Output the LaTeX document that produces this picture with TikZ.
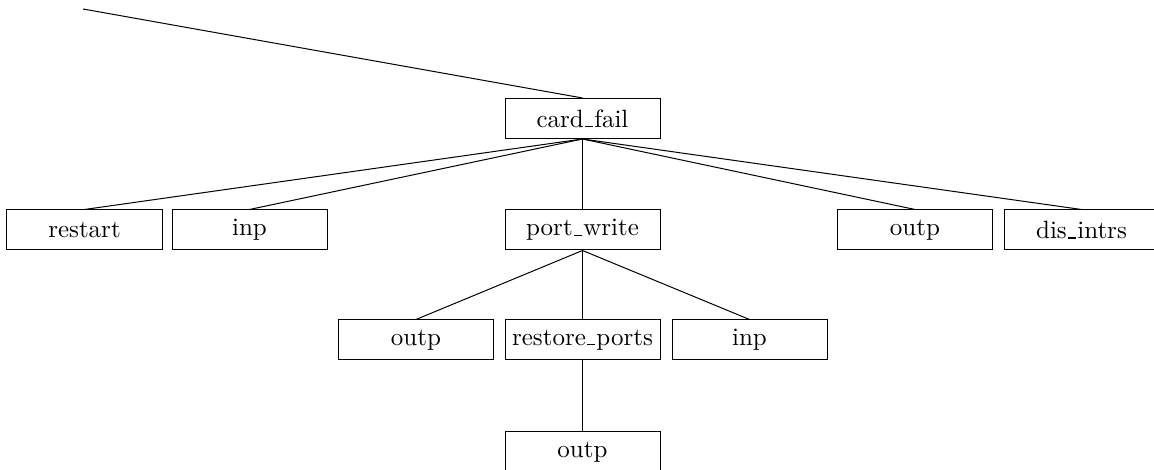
\documentclass[tikz,border=0pt]{standalone}
\newcommand{\us}{\leavevmode\kern.06em\vbox{\hrule width.3em height.5pt}\kern.06em}
\tikzset{
  fbox/.style={draw, minimum width=62pt, minimum height=16pt, inner sep=0pt}
}
\begin{document}
\begin{tikzpicture}[x=0.4pt,y=-0.4pt]
            \useasboundingbox (0,0) rectangle (1154,470);
            \coordinate (top) at (83,9);

            \node[fbox] (cardfail) at (582.5,118.5) {card\us fail};

            \node[fbox] (restart) at (84.5,230) {restart};
            \node[fbox] (inpA) at (249.5,230) {inp};
            \node[fbox] (portwrite) at (582.5,230) {port\us write};
            \node[fbox] (outpA) at (915,230) {outp};
            \node[fbox] (disintrs) at (1081.5,230) {dis\us intrs};

            \node[fbox] (outpB) at (416,340) {outp};
            \node[fbox] (restoreports) at (582.5,340) {restore\us ports};
            \node[fbox] (inpB) at (749.5,340) {inp};

            \node[fbox] (outpC) at (582.5,452) {outp};

            \draw (top) -- (cardfail.north);
            \foreach \n in {restart,inpA,portwrite,outpA,disintrs}
                \draw (cardfail.south) -- (\n.north);
            \foreach \n in {outpB,restoreports,inpB}
                \draw (portwrite.south) -- (\n.north);
            \draw (restoreports.south) -- (outpC.north);
        \end{tikzpicture}
\end{document}
